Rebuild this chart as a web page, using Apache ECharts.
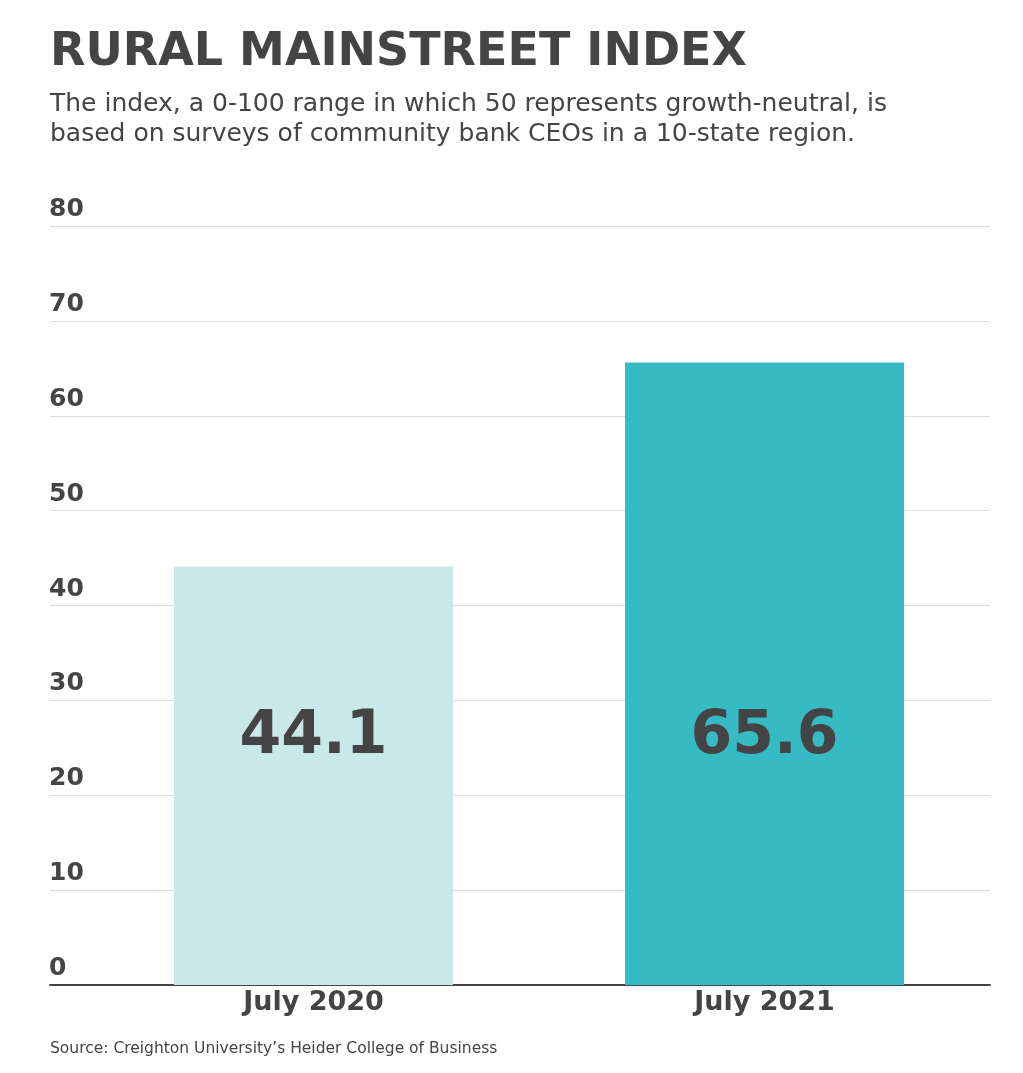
<!DOCTYPE html>
<html>
<head>
<meta charset="utf-8">
<script src="https://cdn.jsdelivr.net/npm/echarts@6/dist/echarts.min.js"></script>
<style>
html,body{margin:0;padding:0;background:#fff;}
#chart{width:1023px;height:1073px;}
</style>
</head>
<body>
<div id="chart"></div>
<script>
const categories = ['July 2020', 'July 2021'];
const values = [44.1, 65.6];
const barColors = ['#c8e8ea', '#36bac4'];
const yMin = 0, yMax = 80, yInterval = 10;

const FONT = '"DejaVu Sans", "Open Sans", sans-serif';
const TXT = '#444444';

const chart = echarts.init(document.getElementById('chart'));
chart.setOption({
  backgroundColor: '#ffffff',
  animation: false,
  title: [
    { text: 'RURAL MAINSTREET INDEX', left: 50, top: 30, padding: 0,
      textStyle: { fontFamily: FONT, fontWeight: 'bold', fontSize: 46, color: TXT } },
    { text: 'The index, a 0-100 range in which 50 represents growth-neutral, is\nbased on surveys of community bank CEOs in a 10-state region.',
      left: 50, top: 89, padding: 0,
      textStyle: { fontFamily: FONT, fontWeight: 'normal', fontSize: 25, lineHeight: 30, color: TXT } },
    { text: 'Source: Creighton University\u2019s Heider College of Business', left: 50, top: 1041, padding: 0,
      textStyle: { fontFamily: FONT, fontWeight: 'normal', fontSize: 15.5, color: TXT } }
  ],
  grid: [
    { left: 50, right: 33, top: 226, bottom: 88 },
    { left: 88, right: 33, top: 226, bottom: 88 }
  ],
  xAxis: [
    { type: 'value', gridIndex: 0, min: 0, max: 1,
      axisLine: { show: true, onZero: false, lineStyle: { color: '#444', width: 2 } },
      axisTick: { show: false }, axisLabel: { show: false }, splitLine: { show: false } },
    { type: 'category', gridIndex: 1, data: categories,
      axisLine: { show: false }, axisTick: { show: false }, splitLine: { show: false },
      axisLabel: { margin: 4, fontFamily: FONT, fontWeight: 'bold', fontSize: 27, color: TXT } }
  ],
  yAxis: [
    { type: 'value', gridIndex: 0, min: yMin, max: yMax, interval: yInterval,
      axisLine: { show: false }, axisTick: { show: false },
      splitLine: { show: true, lineStyle: { color: '#dddddd', width: 1 } },
      axisLabel: { inside: true, margin: -1, align: 'left', verticalAlign: 'bottom',
        padding: [0, 0, 4, 0],
        fontFamily: FONT, fontWeight: 'bold', fontSize: 25, color: TXT } },
    { type: 'value', gridIndex: 1, min: yMin, max: yMax, interval: yInterval, show: false }
  ],
  series: [{
    type: 'bar', xAxisIndex: 1, yAxisIndex: 1,
    data: values.map((v, i) => ({ value: v, itemStyle: { color: barColors[i] } })),
    barWidth: 279,
    label: { show: true, position: 'insideBottom', distance: 218,
      fontFamily: FONT, fontWeight: 'bold', fontSize: 60, color: TXT,
      formatter: p => p.value.toFixed(1) }
  }]
});
</script>
</body>
</html>
